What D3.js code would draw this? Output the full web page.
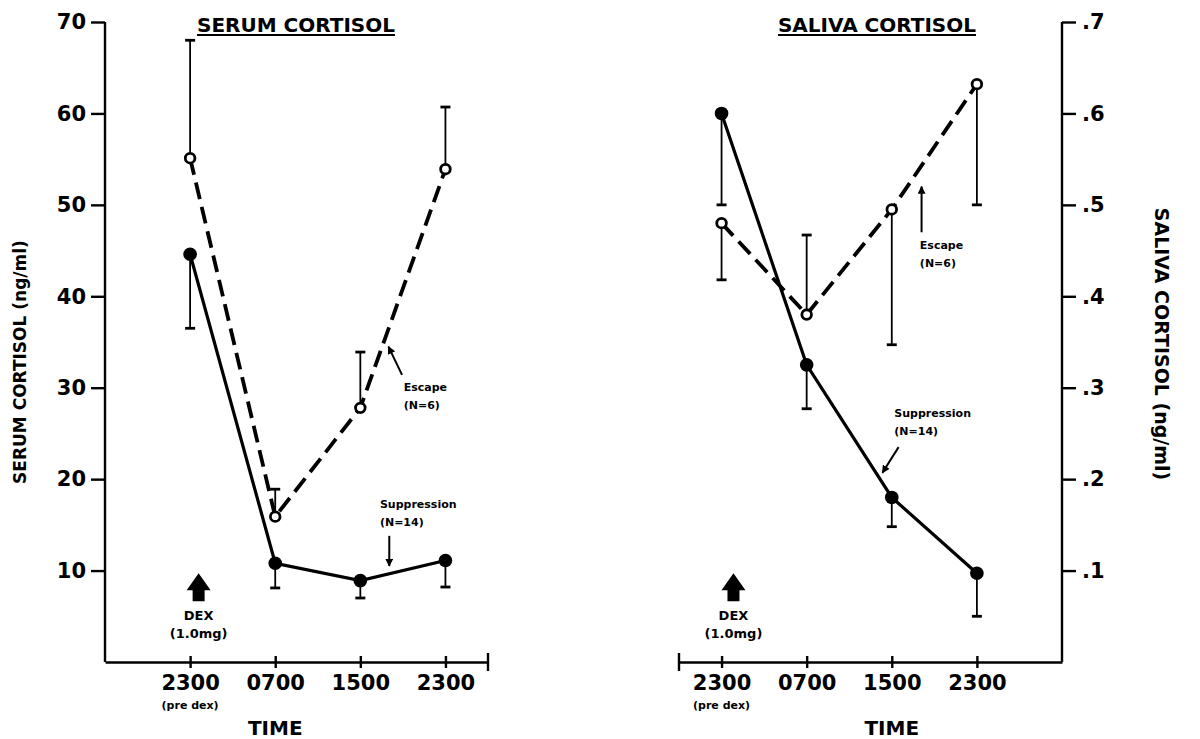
<!DOCTYPE html>
<html>
<head>
<meta charset="utf-8">
<script src="https://cdn.jsdelivr.net/npm/d3@7"></script>
<style>
body { margin: 0; background: #fff; }
svg text { font-family: "DejaVu Sans", sans-serif; font-weight: bold; fill: #000; }
</style>
</head>
<body>
<div id="root"></div>
<script>
const w = 1200, h = 739

// data
const times = ["2300", "0700", "1500", "2300"]
const timeNotes = ["(pre dex)", "", "", ""]

const serumTicks = [10, 20, 30, 40, 50, 60, 70]
const serumSuppression = [44.6, 10.8, 8.9, 11.1]
const serumSuppressionErr = [36.5, 8.1, 7.0, 8.2]
const serumEscape = [55.1, 15.9, 27.8, 53.9]
const serumEscapeErr = [68.0, 18.9, 33.9, 60.7]

const salivaTicks = [0.1, 0.2, 0.3, 0.4, 0.5, 0.6, 0.7]
const salivaSuppression = [0.60, 0.325, 0.18, 0.097]
const salivaSuppressionErr = [0.50, 0.277, 0.148, 0.05]
const salivaEscape = [0.48, 0.38, 0.495, 0.632]
const salivaEscapeErr = [0.418, 0.467, 0.347, 0.50]

const svg = d3.select("#root").append("svg")
    .attr("width", w)
    .attr("height", h)

svg.append("defs").append("marker")
    .attr("id", "head")
    .attr("viewBox", "0 0 10 10")
    .attr("refX", 9).attr("refY", 5)
    .attr("markerWidth", 4).attr("markerHeight", 4)
    .attr("orient", "auto")
    .append("path")
    .attr("d", "M0,0L10,5L0,10Z")
    .attr("fill", "#000")

const panels = [
    {
        title: "SERUM CORTISOL", titleX: 296,
        xDomain: [-1, 3.5], xRange: [105, 488],
        yDomain: [0, 70], ticks: serumTicks, fmt: d3.format("d"),
        side: "left",
        supp: serumSuppression, suppErr: serumSuppressionErr,
        esc: serumEscape, escErr: serumEscapeErr,
        yLabel: "SERUM  CORTISOL (ng/ml)", yLabelX: 20, yLabelY: 362, yLabelSize: 17,
        timeX: 1,
        escLabel: [2.51, 29.6], escArrow: [[2.49, 31.4], [2.33, 34.5]],
        suppLabel: [2.23, 16.8], suppArrow: [[2.34, 13.8], [2.34, 10.5]],
        dex: [0.1, 9.7]
    },
    {
        title: "SALIVA CORTISOL", titleX: 877,
        xDomain: [-0.5, 4], xRange: [679, 1062],
        yDomain: [0, 0.7], ticks: salivaTicks, fmt: d => d3.format(".1f")(d).replace(/^0/, ""),
        side: "right",
        supp: salivaSuppression, suppErr: salivaSuppressionErr,
        esc: salivaEscape, escErr: salivaEscapeErr,
        yLabel: "SALIVA  CORTISOL (ng/ml)", yLabelX: 1162, yLabelY: 344, yLabelSize: 19,
        timeX: 2,
        escLabel: [2.33, 0.452], escArrow: [[2.35, 0.470], [2.35, 0.52]],
        suppLabel: [2.03, 0.268], suppArrow: [[2.08, 0.235], [1.89, 0.207]],
        dex: [0.14, 0.097]
    }
]

function drawPanel(p) {
    const g = svg.append("g")

    const x = d3.scaleLinear().domain(p.xDomain).range(p.xRange)
    const y = d3.scaleLinear().domain(p.yDomain).range([662, 22])

    // y axis
    const yAxis = p.side == "left"
        ? d3.axisLeft(y).tickSize(14).tickPadding(5)
        : d3.axisRight(y).tickSize(14).tickPadding(6)
    const ya = g.append("g")
        .attr("transform", `translate(${p.side == "left" ? p.xRange[0] : p.xRange[1]},0)`)
        .call(yAxis.tickValues(p.ticks).tickFormat(p.fmt).tickSizeOuter(0))
    ya.select(".domain").attr("d", `M0,${y(p.yDomain[1])}V${y(0)}`)
    ya.selectAll("path, line").attr("stroke", "#000").attr("stroke-width", 2.4)
    ya.selectAll("text").attr("font-size", 21).attr("font-family", null)

    // x axis
    const xa = g.append("g")
        .attr("transform", "translate(0,662)")
        .call(d3.axisBottom(x).tickValues([0, 1, 2, 3]).tickFormat(i => times[i])
            .tickSize(6).tickSizeOuter(0))
    xa.selectAll(".tick line").attr("y1", -6)
    xa.selectAll("path, line").attr("stroke", "#000").attr("stroke-width", 2.4)
    xa.selectAll("text").attr("font-size", 21).attr("font-family", null).attr("y", 13)

    // end tick of the time axis
    const endX = p.side == "left" ? p.xRange[1] : p.xRange[0]
    g.append("line")
        .attr("x1", endX).attr("x2", endX)
        .attr("y1", 653).attr("y2", 671)
        .attr("stroke", "#000").attr("stroke-width", 2.4)

    g.selectAll("text.note").data(timeNotes).enter().append("text")
        .attr("class", "note")
        .attr("x", (d, i) => x(i))
        .attr("y", 709)
        .attr("text-anchor", "middle")
        .attr("font-size", 11)
        .text(d => d)

    g.append("text")
        .attr("x", x(p.timeX)).attr("y", 735)
        .attr("text-anchor", "middle")
        .attr("font-size", 20)
        .text("TIME")

    // title
    const title = g.append("text")
        .attr("x", p.titleX).attr("y", 32)
        .attr("text-anchor", "middle")
        .attr("font-size", 20)
        .text(p.title)
    const tl = title.node().getComputedTextLength()
    g.append("line")
        .attr("x1", p.titleX - tl / 2).attr("x2", p.titleX + tl / 2)
        .attr("y1", 35).attr("y2", 35)
        .attr("stroke", "#000").attr("stroke-width", 2.2)

    // axis label
    g.append("text")
        .attr("transform", `translate(${p.yLabelX},${p.yLabelY}) rotate(${p.side == "left" ? -90 : 90})`)
        .attr("text-anchor", "middle")
        .attr("dy", "0.35em")
        .attr("font-size", p.yLabelSize)
        .text(p.yLabel)

    // error bars
    const bars = [
        ...p.supp.map((v, i) => ({ i, v, e: p.suppErr[i] })),
        ...p.esc.map((v, i) => ({ i, v, e: p.escErr[i] }))
    ]
    g.selectAll("line.err").data(bars).enter().append("line")
        .attr("class", "err")
        .attr("x1", d => x(d.i)).attr("x2", d => x(d.i))
        .attr("y1", d => y(d.v)).attr("y2", d => y(d.e))
        .attr("stroke", "#000").attr("stroke-width", 1.8)
    g.selectAll("line.cap").data(bars).enter().append("line")
        .attr("class", "cap")
        .attr("x1", d => x(d.i) - 5).attr("x2", d => x(d.i) + 5)
        .attr("y1", d => y(d.e)).attr("y2", d => y(d.e))
        .attr("stroke", "#000").attr("stroke-width", 2.8)

    const line = d3.line().x((d, i) => x(i)).y(d => y(d))

    g.append("path").datum(p.supp)
        .attr("d", line)
        .attr("fill", "none").attr("stroke", "#000").attr("stroke-width", 3.2)

    g.append("path").datum(p.esc)
        .attr("d", line)
        .attr("fill", "none").attr("stroke", "#000").attr("stroke-width", 3.8)
        .attr("stroke-dasharray", "17,8")

    g.selectAll("circle.supp").data(p.supp).enter().append("circle")
        .attr("class", "supp")
        .attr("cx", (d, i) => x(i)).attr("cy", d => y(d))
        .attr("r", 6.8).attr("fill", "#000")

    g.selectAll("circle.esc").data(p.esc).enter().append("circle")
        .attr("class", "esc")
        .attr("cx", (d, i) => x(i)).attr("cy", d => y(d))
        .attr("r", 4.8).attr("fill", "#fff")
        .attr("stroke", "#000").attr("stroke-width", 2.8)

    // labels and arrows
    const small = (pos, lines) => {
        g.selectAll(null).data(lines).enter().append("text")
            .attr("x", x(pos[0]))
            .attr("y", (d, i) => y(pos[1]) + i * 18)
            .attr("font-size", 11)
            .text(d => d)
    }
    small(p.escLabel, ["Escape", "(N=6)"])
    small(p.suppLabel, ["Suppression", "(N=14)"])

    ;[p.escArrow, p.suppArrow].forEach(a => {
        g.append("line")
            .attr("x1", x(a[0][0])).attr("y1", y(a[0][1]))
            .attr("x2", x(a[1][0])).attr("y2", y(a[1][1]))
            .attr("stroke", "#000").attr("stroke-width", 2)
            .attr("marker-end", "url(#head)")
    })

    // DEX block arrow
    const dx = x(p.dex[0]), dy = y(p.dex[1])
    g.append("path")
        .attr("d", `M${dx},${dy}L${dx + 12},${dy + 17}L${dx + 6},${dy + 17}L${dx + 6},${dy + 28}` +
            `L${dx - 6},${dy + 28}L${dx - 6},${dy + 17}L${dx - 12},${dy + 17}Z`)
        .attr("fill", "#000")
    g.append("text")
        .attr("x", dx).attr("y", dy + 47)
        .attr("text-anchor", "middle")
        .attr("font-size", 13)
        .text("DEX")
    g.append("text")
        .attr("x", dx).attr("y", dy + 65)
        .attr("text-anchor", "middle")
        .attr("font-size", 13)
        .text("(1.0mg)")
}

panels.forEach(drawPanel)
</script>
</body>
</html>
